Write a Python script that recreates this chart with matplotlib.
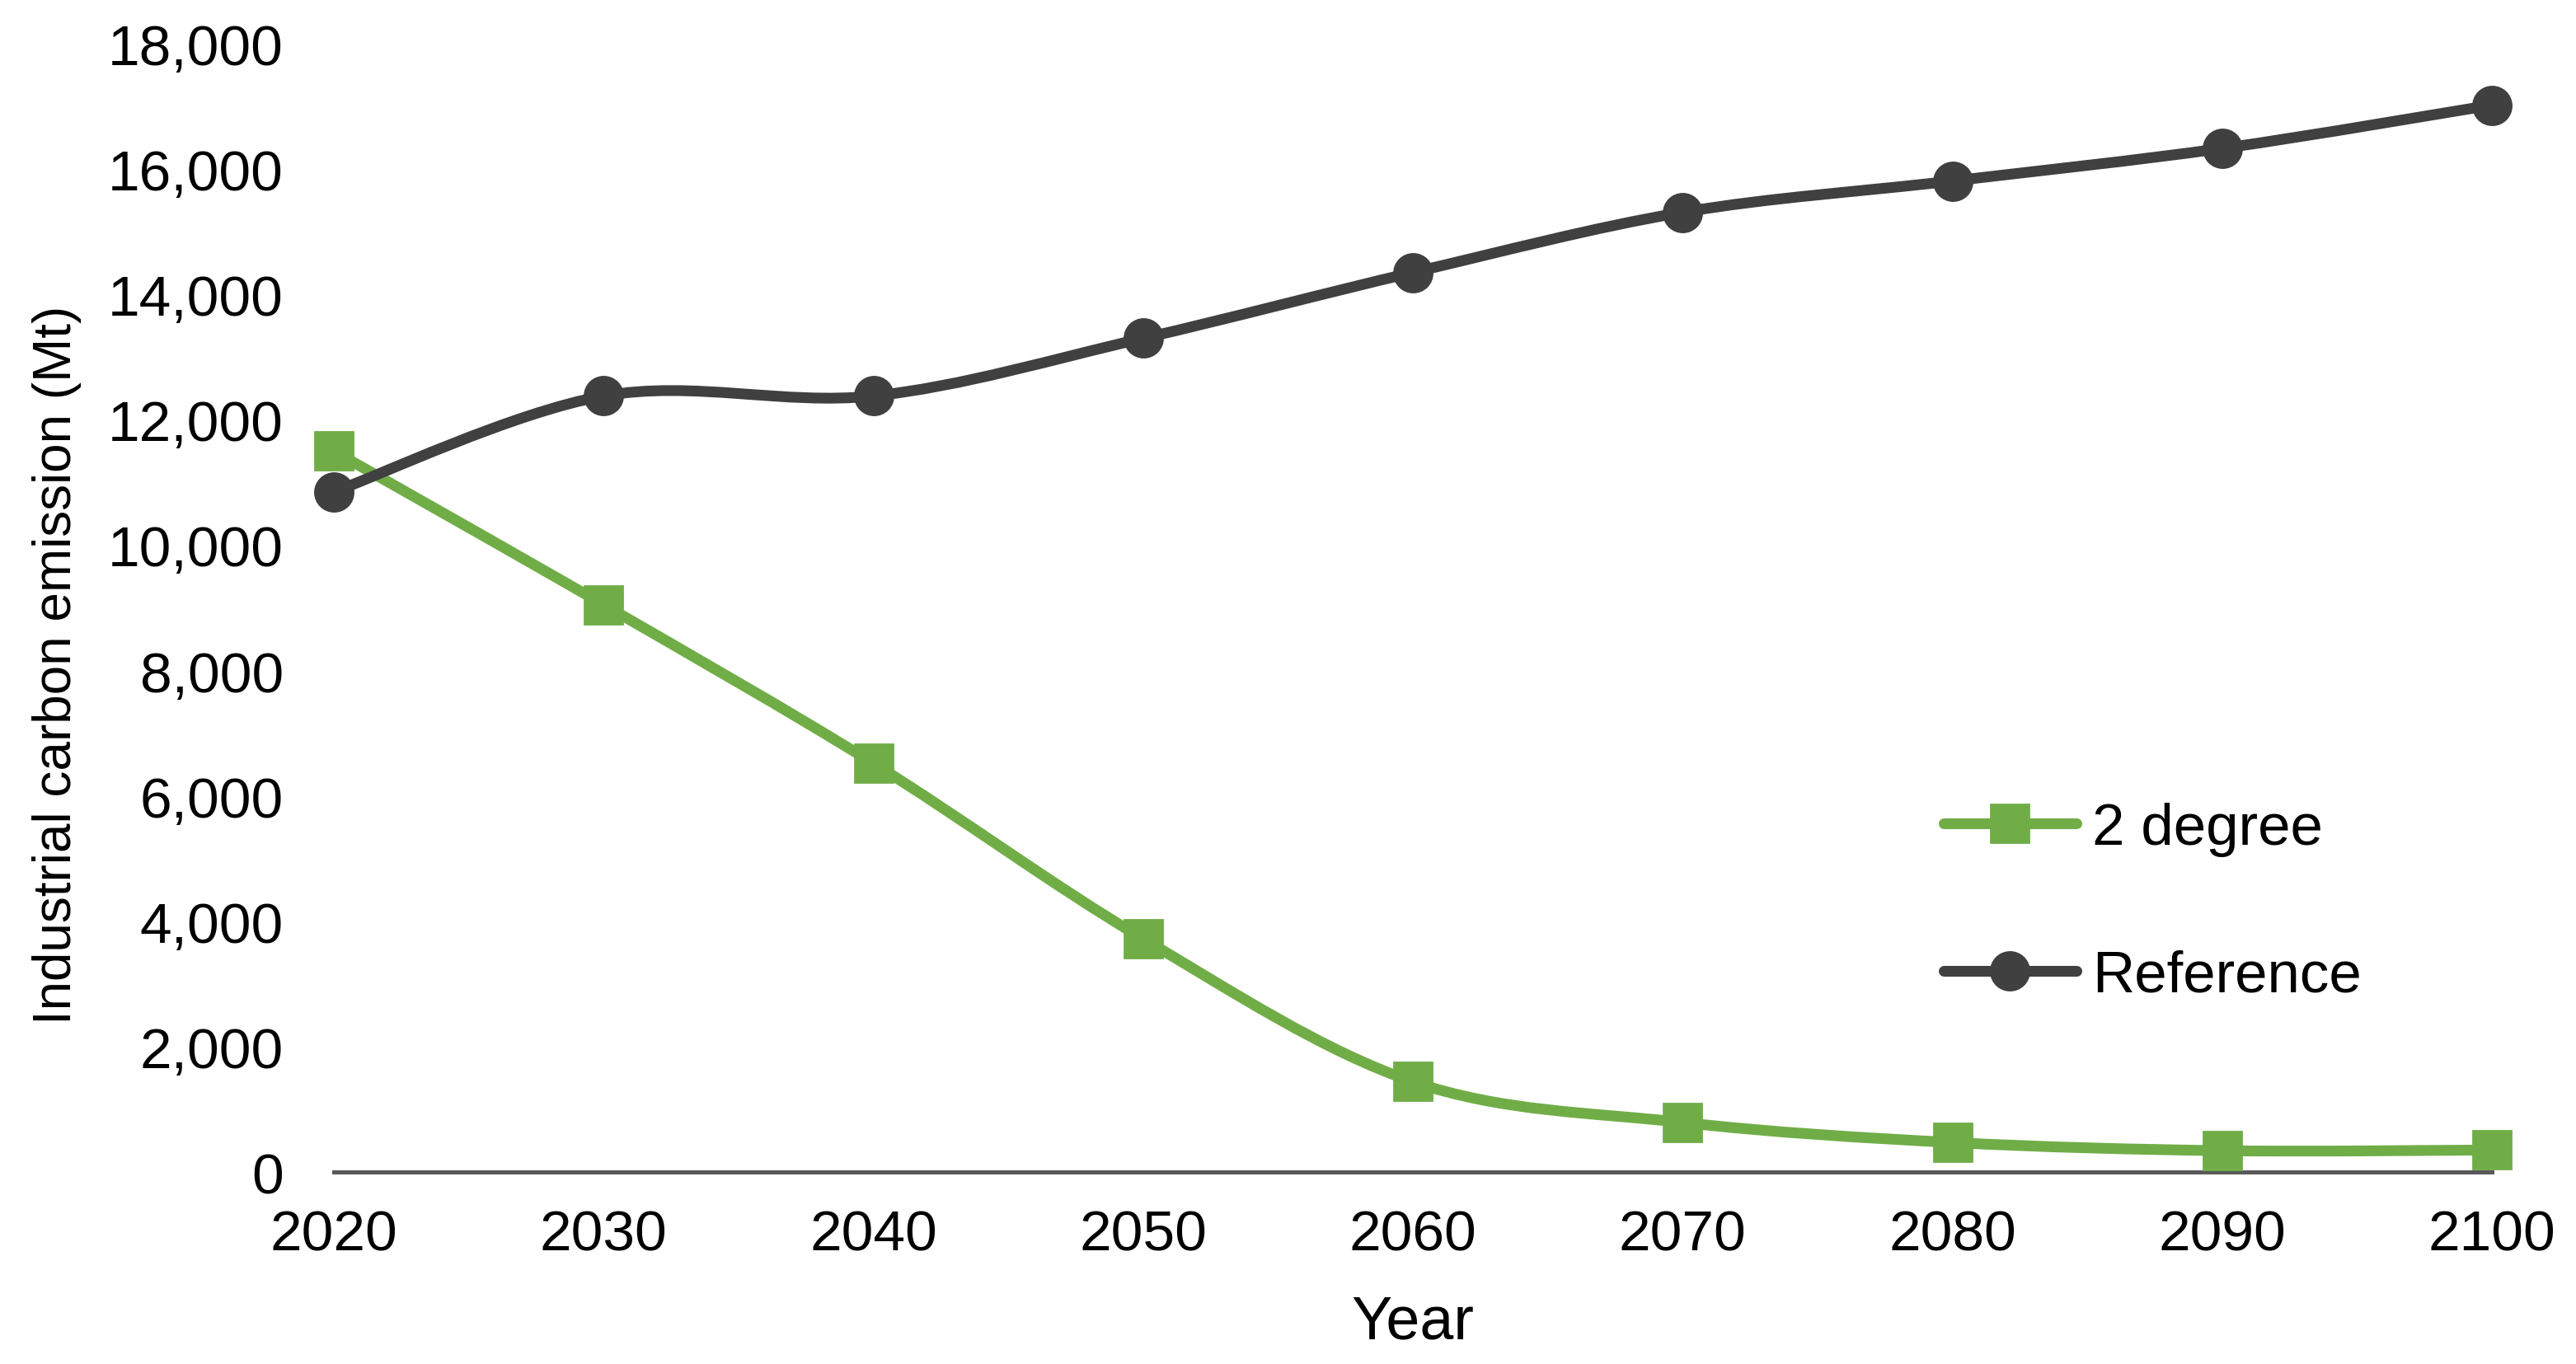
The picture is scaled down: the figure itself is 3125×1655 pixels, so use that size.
import matplotlib
matplotlib.use("Agg")
import matplotlib.pyplot as plt
from matplotlib.path import Path
from matplotlib.patches import PathPatch
from matplotlib.lines import Line2D
from matplotlib.ticker import StrMethodFormatter

years = [2020, 2030, 2040, 2050, 2060, 2070, 2080, 2090, 2100]
two_degree = [11500, 9050, 6520, 3720, 1440, 790, 470, 340, 350]
reference = [10850, 12380, 12380, 13300, 14350, 15310, 15810, 16330, 17020]

GREEN = "#70AD47"
DARK = "#404040"

plt.rcParams["font.family"] = ["Liberation Sans", "DejaVu Sans"]


def smooth_path(x, y):
    # excel-like smoothed line: cubic bezier with catmull-rom control points
    verts = [(x[0], y[0])]
    codes = [Path.MOVETO]
    n = len(x)
    for i in range(n - 1):
        x0, y0 = (x[i - 1], y[i - 1]) if i > 0 else (x[i], y[i])
        x3, y3 = (x[i + 2], y[i + 2]) if i + 2 < n else (x[i + 1], y[i + 1])
        c1 = (x[i] + (x[i + 1] - x0) / 6, y[i] + (y[i + 1] - y0) / 6)
        c2 = (x[i + 1] - (x3 - x[i]) / 6, y[i + 1] - (y3 - y[i]) / 6)
        verts += [c1, c2, (x[i + 1], y[i + 1])]
        codes += [Path.CURVE4] * 3
    return Path(verts, codes)


fig = plt.figure(figsize=(15.625, 8.28), dpi=200)
ax = fig.add_axes([0.1296, 0.1407, 0.8378, 0.8267])

lw = 4.7
ms = 16.6
for vals, color, marker in [(two_degree, GREEN, "s"),
                            (reference, DARK, "o")]:
    ax.add_patch(PathPatch(smooth_path(years, vals), facecolor="none",
                           edgecolor=color, lw=lw, capstyle="round",
                           zorder=3, clip_on=False))
    ax.plot(years, vals, linestyle="none", marker=marker, ms=ms,
            color=color, zorder=4, clip_on=False)

ax.set_xlim(2020, 2100)
ax.set_ylim(0, 18000)
ax.set_xticks(years)
ax.set_yticks(range(0, 18001, 2000))
ax.yaxis.set_major_formatter(StrMethodFormatter("{x:,.0f}"))
ax.tick_params(length=0, labelsize=25)
ax.tick_params(axis="y", pad=22)
ax.tick_params(axis="x", pad=16)
for s in ["top", "right", "left"]:
    ax.spines[s].set_visible(False)
ax.spines["bottom"].set_color("#595959")
ax.spines["bottom"].set_linewidth(1.8)
ax.spines["bottom"].set_zorder(2)

ax.set_xlabel("Year", fontsize=26.5, labelpad=14)
ax.set_ylabel("Industrial carbon emission (Mt)", fontsize=23)
ax.yaxis.set_label_coords(-0.117, 0.45)

handles = [
    Line2D([], [], color=GREEN, lw=lw, marker="s", ms=ms,
           solid_capstyle="round"),
    Line2D([], [], color=DARK, lw=lw, marker="o", ms=ms,
           solid_capstyle="round"),
]
fig.legend(handles, ["2 degree", "Reference"], loc="center left",
           bbox_to_anchor=(0.7547, 0.338), frameon=False, fontsize=25.5,
           handlelength=2.26, handletextpad=0.28, labelspacing=1.6,
           borderpad=0, borderaxespad=0)

fig.savefig("out.png", dpi=200)
